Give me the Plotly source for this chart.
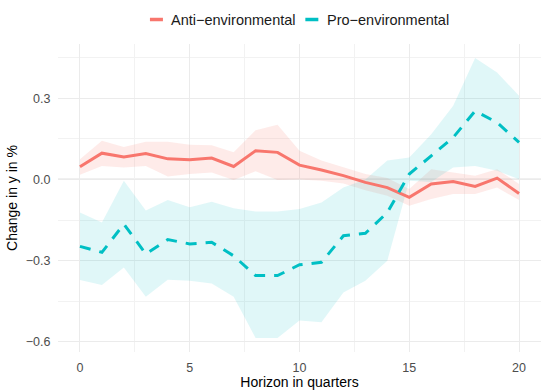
import plotly.graph_objects as go

horizon = list(range(21))

anti = [0.047, 0.097, 0.083, 0.096, 0.076, 0.073, 0.079, 0.048, 0.106, 0.100, 0.053,
        0.035, 0.014, -0.011, -0.030, -0.066, -0.017, -0.008, -0.026, 0.005, -0.052]
anti_hi = [0.075, 0.143, 0.120, 0.139, 0.139, 0.128, 0.126, 0.100, 0.182, 0.202, 0.106,
           0.070, 0.045, 0.020, 0.005, -0.035, 0.038, 0.026, 0.014, 0.038, -0.017]
anti_lo = [0.017, 0.050, 0.044, 0.050, 0.011, 0.020, 0.026, -0.002, 0.030, -0.002, 0.000,
           -0.005, -0.015, -0.040, -0.060, -0.097, -0.072, -0.054, -0.054, -0.030, -0.076]

pro = [-0.247, -0.269, -0.165, -0.275, -0.222, -0.238, -0.232, -0.282, -0.355, -0.355, -0.315,
       -0.306, -0.208, -0.199, -0.122, 0.020, 0.087, 0.155, 0.253, 0.210, 0.137]
pro_hi = [-0.122, -0.159, -0.005, -0.115, -0.076, -0.103, -0.082, -0.106, -0.118, -0.118, -0.109,
          -0.085, -0.030, 0.000, 0.070, 0.081, 0.167, 0.272, 0.448, 0.395, 0.309]
pro_lo = [-0.371, -0.390, -0.325, -0.433, -0.370, -0.374, -0.384, -0.433, -0.585, -0.585, -0.521,
          -0.527, -0.417, -0.374, -0.300, -0.005, -0.009, 0.044, 0.050, 0.032, 0.001]

series_names = ["Anti\u2212environmental", "Pro\u2212environmental"]
x_ticks = [0, 5, 10, 15, 20]
y_ticks = [-0.6, -0.3, 0.0, 0.3]

RED = "#F8766D"
CYAN = "#00BFC4"
RED_FILL = "rgba(248,118,109,0.15)"
CYAN_FILL = "rgba(0,191,196,0.12)"

fig = go.Figure()

for lo, hi, fill in [(anti_lo, anti_hi, RED_FILL), (pro_lo, pro_hi, CYAN_FILL)]:
    fig.add_trace(go.Scatter(x=horizon, y=hi, mode="lines", line=dict(width=0),
                             showlegend=False, hoverinfo="skip"))
    fig.add_trace(go.Scatter(x=horizon, y=lo, mode="lines", line=dict(width=0),
                             fill="tonexty", fillcolor=fill, showlegend=False, hoverinfo="skip"))

fig.add_trace(go.Scatter(x=horizon, y=anti, mode="lines", name=series_names[0],
                         line=dict(color=RED, width=3), showlegend=False))
fig.add_trace(go.Scatter(x=horizon, y=pro, mode="lines", name=series_names[1],
                         line=dict(color=CYAN, width=3, dash="11px,9px"), showlegend=False))

# zero reference line
fig.add_shape(type="line", xref="paper", x0=0, x1=1, yref="y", y0=0, y1=0,
              line=dict(color="black", width=1), layer="between")

# plot-area geometry (pixels) used to place the custom legend
L, R, T, B = 58, 541.3, 43.5, 351.6
legend_y = 19
def pfx(v):
    return (v - L) / (R - L)
def pfy(v):
    return (B - v) / (B - T)

for x0, x1, c in [(150, 163, RED), (305.5, 318.5, CYAN)]:
    fig.add_shape(type="line", xref="paper", yref="paper",
                  x0=pfx(x0), x1=pfx(x1), y0=pfy(legend_y), y1=pfy(legend_y),
                  line=dict(color=c, width=3.5))
for xt, name in [(169, series_names[0]), (325, series_names[1])]:
    fig.add_annotation(text=name, xref="paper", yref="paper",
                       x=pfx(xt), y=pfy(legend_y),
                       xanchor="left", yanchor="middle", showarrow=False,
                       font=dict(size=14.5, color="#1A1A1A"))

fig.update_layout(
    width=542, height=390,
    margin=dict(l=L, r=542 - R, t=T, b=390 - B, autoexpand=False),
    paper_bgcolor="white", plot_bgcolor="white",
    font=dict(family="Liberation Sans, Arial, sans-serif", color="#1A1A1A"),
    showlegend=False,
)
fig.update_xaxes(
    range=[-1, 21], tickvals=x_ticks, ticktext=[str(v) for v in x_ticks],
    showgrid=True, gridcolor="#EBEBEB", gridwidth=1, zeroline=False,
    minor=dict(dtick=2.5, tick0=0, showgrid=True, gridcolor="#F2F2F2", gridwidth=1),
    ticks="outside", ticklen=4, tickcolor="rgba(0,0,0,0)",
    tickfont=dict(size=12.5, color="#4D4D4D"),
    title=dict(text="Horizon in quarters", font=dict(size=14, color="black"), standoff=2),
    showline=False, automargin=False,
)
fig.update_yaxes(
    range=[-0.637, 0.5], tickvals=y_ticks, tickformat=".1f",
    showgrid=True, gridcolor="#EBEBEB", gridwidth=1, zeroline=False,
    minor=dict(dtick=0.15, tick0=0, showgrid=True, gridcolor="#F2F2F2", gridwidth=1),
    ticks="outside", ticklen=4, tickcolor="rgba(0,0,0,0)",
    tickfont=dict(size=12.5, color="#4D4D4D"),
    title=dict(text="Change in y in %", font=dict(size=14, color="black"), standoff=4),
    showline=False, automargin=False,
)

fig.write_html("out.html", config={"displayModeBar": False},
               post_script="document.body.style.margin='0px';document.body.style.padding='0px';")
